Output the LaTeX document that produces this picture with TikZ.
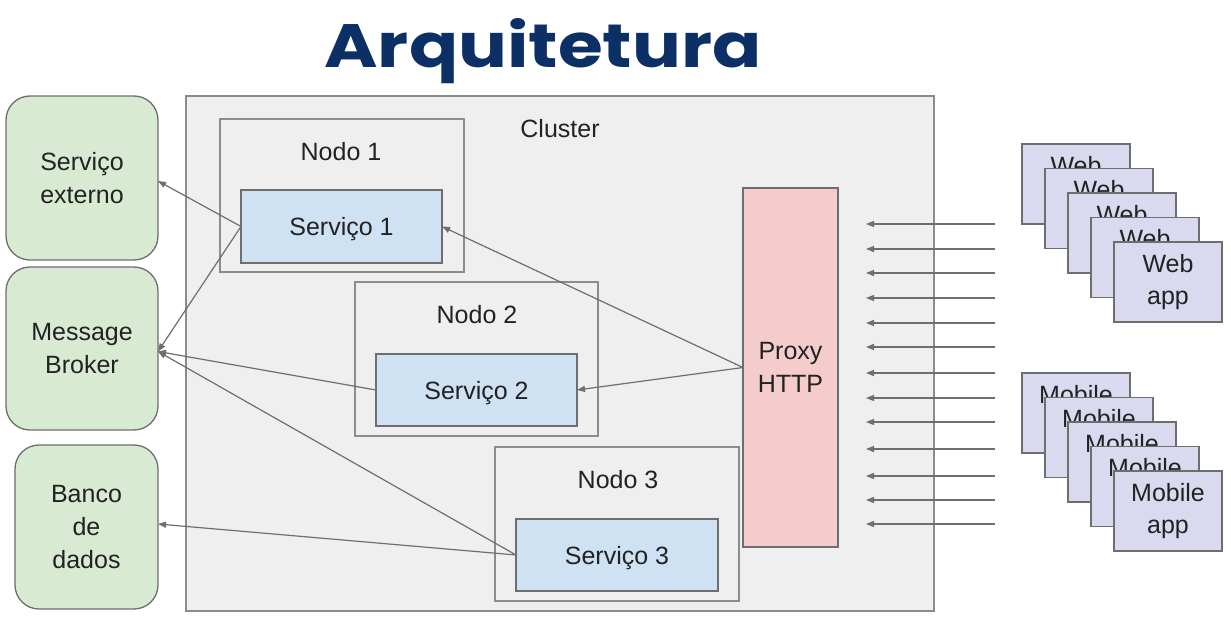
\documentclass[tikz,border=0pt]{standalone}
\usepackage{fontspec}
\setmainfont{Liberation Sans}
\newfontfamily\titlefont{Poppins}
\usetikzlibrary{arrows.meta,calc}
\definecolor{titleblue}{RGB}{12,48,102}
\definecolor{clusterfill}{RGB}{239,239,239}
\definecolor{svcfill}{RGB}{207,226,243}
\definecolor{proxyfill}{RGB}{244,204,204}
\definecolor{extfill}{RGB}{217,234,211}
\definecolor{appfill}{RGB}{217,217,240}
\definecolor{linegray}{RGB}{110,110,110}
\definecolor{boxgray}{RGB}{140,140,140}
\definecolor{txt}{RGB}{34,34,34}
\tikzset{
  base/.style={inner sep=0pt, outer sep=0pt, text=txt, font=\fontsize{25}{33}\selectfont, align=center},
  clusterbox/.style={base, draw=boxgray, fill=clusterfill, line width=1.3pt},
  nodobox/.style={base, draw=boxgray, fill=clusterfill, line width=1.2pt},
  svcbox/.style={base, draw=linegray, fill=svcfill, line width=1.3pt, text depth=0pt},
  proxybox/.style={base, draw=linegray, fill=proxyfill, line width=1.3pt},
  extbox/.style={base, draw=linegray, fill=extfill, line width=1.3pt, rounded corners=24pt},
  appbox/.style={base, draw=linegray, fill=appfill, line width=1.3pt, minimum width=108pt, minimum height=80pt, font=\fontsize{25}{32}\selectfont},
  lbl/.style={inner sep=0pt, text=txt, font=\fontsize{25}{33}\selectfont},
  conn/.style={draw=linegray, line width=1.2pt, -{Triangle[length=8pt,width=6pt]}},
}
\begin{document}
\begin{tikzpicture}[x=1pt,y=-1pt]
\useasboundingbox (0,0) rectangle (1231,639);
\fill[white] (0,0) rectangle (1231,639);
% title
\node[inner sep=0pt, anchor=base, text=titleblue] (title) at (543,68)
  {\resizebox{437pt}{49pt}{\titlefont\bfseries Arquitetura}};
% cluster and nodes
\node[clusterbox, minimum width=748pt, minimum height=515pt] (cluster) at (560,353.5) {};
\node[lbl] (clusterlbl) at (560,129) {Cluster};
\node[nodobox, minimum width=244pt, minimum height=153pt] (nodo1) at (342,195.5) {};
\node[lbl] (nodo1lbl) at (341,152) {Nodo 1};
\node[svcbox, minimum width=201pt, minimum height=73pt] (serv1) at (341.5,226.5) {Serviço 1};
\node[nodobox, minimum width=243pt, minimum height=154pt] (nodo2) at (476.5,359) {};
\node[lbl] (nodo2lbl) at (477,315) {Nodo 2};
\node[svcbox, minimum width=201pt, minimum height=72pt] (serv2) at (476.5,390) {Serviço 2};
\node[nodobox, minimum width=244pt, minimum height=154pt] (nodo3) at (617,524) {};
\node[lbl] (nodo3lbl) at (618,480) {Nodo 3};
\node[svcbox, minimum width=202pt, minimum height=72pt] (serv3) at (617,555) {Serviço 3};
\node[proxybox, minimum width=95pt, minimum height=359pt] (proxy) at (790.5,367.5) {Proxy\\HTTP};
% external
\node[extbox, minimum width=152pt, minimum height=164pt] (ext) at (82,178) {Serviço\\externo};
\node[extbox, minimum width=152pt, minimum height=163pt] (broker) at (82,348.5) {Message\\Broker};
\node[extbox, minimum width=143pt, minimum height=164pt] (banco) at (86.5,527) {Banco\\de\\dados};
% connectors
\draw[conn] (serv1.west) -- ($(ext.east)+(0,3)$);
\draw[conn] (serv1.west) -- ($(broker.east)+(0,3)$);
\draw[conn] (serv2.west) -- ($(broker.east)+(0,3)$);
\draw[conn] (serv3.west) -- ($(broker.east)+(0,3)$);
\draw[conn] (serv3.west) -- ($(banco.east)+(0,-3)$);
\draw[conn] (proxy.west) -- (serv1.east);
\draw[conn] (proxy.west) -- (serv2.east);
% incoming arrows
\foreach \i/\y in {1/224,2/249,3/273,4/298,5/323,6/347,7/373,8/398,9/422,10/449,11/476,12/500,13/524} {
  \coordinate (in\i) at (995,\y);
  \coordinate (out\i) at (866,\y);
  \draw[conn] (in\i) -- (out\i);
}
% web app stack
\foreach \k in {0,...,4} {
  \node[appbox] (web\k) at (1076+23*\k,184+24.5*\k) {Web\\app};
}
\foreach \k in {0,...,4} {
  \node[appbox] (mob\k) at (1076+23*\k,413+24.5*\k) {Mobile\\app};
}
\end{tikzpicture}
\end{document}
